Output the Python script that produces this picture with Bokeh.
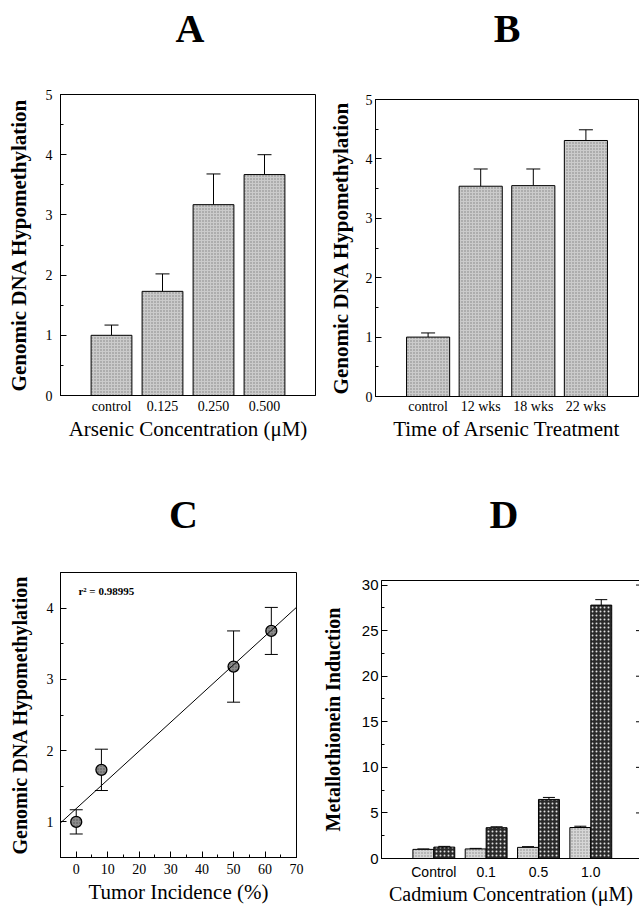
import numpy as np
from bokeh.plotting import figure
from bokeh.models import (Range1d, FixedTicker, SingleIntervalTicker, Whisker, TeeHead,
                          Label, Slope, ColumnDataSource)
from bokeh.layouts import column, row
from bokeh.embed import file_html
from bokeh.resources import INLINE

# ---------------- data ----------------
# Panel A
a_cats = ["control", "0.125", "0.250", "0.500"]
a_vals = [1.00, 1.73, 3.17, 3.67]
a_errs = [0.17, 0.29, 0.51, 0.33]

# Panel B
b_cats = ["control", "12 wks", "18 wks", "22 wks"]
b_vals = [1.00, 3.54, 3.55, 4.31]
b_errs = [0.07, 0.29, 0.28, 0.18]

# Panel C
c_x = [0, 8, 50, 62]
c_y = [1.00, 1.73, 3.18, 3.68]
c_err = [0.17, 0.29, 0.50, 0.33]
c_r2 = "r\u00b2 = 0.98995"

# Panel D
d_cats = ["Control", "0.1", "0.5", "1.0"]
d_light = [1.00, 1.05, 1.22, 3.40]
d_light_err = [0.05, 0.06, 0.08, 0.14]
d_dark = [1.25, 3.38, 6.48, 27.8]
d_dark_err = [0.08, 0.10, 0.22, 0.60]
d_yticks = [5, 10, 15, 20, 25, 30]

SERIF = "Liberation Serif"
SANS = "Liberation Sans"


def base_style(p):
    p.xgrid.visible = False
    p.ygrid.visible = False
    p.outline_line_color = "black"
    p.outline_line_width = 1
    p.background_fill_color = "white"
    p.border_fill_color = "white"
    for ax in (p.xaxis[0], p.yaxis[0]):
        ax.axis_line_color = "black"
        ax.major_tick_line_color = "black"
        ax.minor_tick_line_color = "black"
        ax.major_tick_out = 0
        ax.minor_tick_out = 0
        ax.major_tick_in = 6
        ax.minor_tick_in = 3
        ax.major_label_text_color = "black"
        ax.axis_label_text_color = "black"


def letter_fig(letter, x_range, left, fw, right, h, mid_from_bottom, dx=0):
    f = figure(frame_width=fw, frame_height=h, output_backend="svg", toolbar_location=None,
               x_range=Range1d(x_range.start, x_range.end), y_range=Range1d(0, h),
               min_border_left=left, min_border_right=right, min_border_top=0,
               min_border_bottom=0, x_axis_location=None, y_axis_location=None)
    f.xgrid.visible = False
    f.ygrid.visible = False
    f.outline_line_color = None
    f.background_fill_color = "white"
    f.border_fill_color = "white"
    f.text(x=[(x_range.start + x_range.end) / 2], y=[mid_from_bottom], text=[letter],
           x_offset=dx, text_font=SERIF, text_font_style="bold", text_font_size="40px",
           text_align="center", text_baseline="middle", text_color="black")
    return f


def bar_panel(cats, vals, errs, xtitle, fw, fh, borders, bar_w, st):
    pos = list(range(len(cats)))
    p = figure(frame_width=fw, frame_height=fh, output_backend="svg", toolbar_location=None,
               x_range=Range1d(-1, len(cats)), y_range=Range1d(0, 5),
               min_border_left=borders[0], min_border_right=borders[1],
               min_border_top=borders[2], min_border_bottom=borders[3])
    base_style(p)
    src = ColumnDataSource(dict(x=pos, top=vals, up=[v + e for v, e in zip(vals, errs)]))
    p.vbar(x="x", top="top", bottom=0, width=bar_w, source=src,
           fill_color="#cbcbcb", line_color="black", line_width=1,
           hatch_pattern="dot", hatch_color="#7f7f7f", hatch_scale=3, hatch_weight=1)
    p.add_layout(Whisker(base="x", lower="top", upper="up", source=src, dimension="height",
                         line_color="black", line_width=1,
                         upper_head=TeeHead(size=14, line_color="black", line_width=1),
                         lower_head=None))
    xa, ya = p.xaxis[0], p.yaxis[0]
    xa.ticker = FixedTicker(ticks=pos)
    xa.major_label_overrides = {i: c for i, c in zip(pos, cats)}
    xa.major_tick_in = 0
    xa.minor_tick_in = 0
    xa.major_label_standoff = st[0]
    xa.major_label_text_font = SERIF
    xa.major_label_text_font_size = "14px"
    xa.axis_label = xtitle
    xa.axis_label_text_font = SERIF
    xa.axis_label_text_font_style = "normal"
    xa.axis_label_text_font_size = "21px"
    xa.axis_label_standoff = st[1]
    ya.ticker = SingleIntervalTicker(interval=1, num_minor_ticks=2)
    ya.major_label_standoff = st[2]
    ya.major_label_text_font = SERIF
    ya.major_label_text_font_size = "14px"
    ya.axis_label = "Genomic DNA Hypomethylation"
    ya.axis_label_text_font = SERIF
    ya.axis_label_text_font_style = "bold"
    ya.axis_label_text_font_size = "21px"
    ya.axis_label_standoff = st[3]
    return p


# ---- top row: A (x 0-325), B (x 325-639) ----
pA = bar_panel(a_cats, a_vals, a_errs, "Arsenic Concentration (\u03bcM)", 255, 301,
               (60, 10, 34, 75), 0.8, (3, 0, 8, 12))
pB = bar_panel(b_cats, b_vals, b_errs, "Time of Arsenic Treatment", 263, 297,
               (48, 3, 39, 74), 0.82, (2, 0, 3, 10))
lA = letter_fig("A", pA.x_range, 60, 255, 10, 60, 32.5, dx=2)
lB = letter_fig("B", pB.x_range, 48, 263, 3, 60, 32.5, dx=0)

# ---------------- Panel C ----------------
pC = figure(frame_width=236, frame_height=285, output_backend="svg", toolbar_location=None,
            x_range=Range1d(-5, 70), y_range=Range1d(0.5, 4.5),
            min_border_left=60, min_border_right=22, min_border_top=27, min_border_bottom=51)
base_style(pC)
slope, intercept = np.polyfit(c_x, c_y, 1)
pC.add_layout(Slope(gradient=float(slope), y_intercept=float(intercept),
                    line_color="black", line_width=1))
csrc = ColumnDataSource(dict(x=c_x, y=c_y,
                             lo=[y - e for y, e in zip(c_y, c_err)],
                             hi=[y + e for y, e in zip(c_y, c_err)]))
pC.add_layout(Whisker(base="x", lower="lo", upper="hi", source=csrc, dimension="height",
                      line_color="black", line_width=1,
                      upper_head=TeeHead(size=13, line_color="black", line_width=1),
                      lower_head=TeeHead(size=13, line_color="black", line_width=1)))
pC.scatter("x", "y", source=csrc, size=11, fill_color="#8c8c8c", line_color="black",
           line_width=1.3, hatch_pattern="dot", hatch_color="#505050", hatch_scale=3)
pC.add_layout(Label(x=0.7, y=4.16, text=c_r2, text_font=SERIF, text_font_style="bold",
                    text_font_size="11px", text_color="black"))
cx, cy = pC.xaxis[0], pC.yaxis[0]
cx.ticker = SingleIntervalTicker(interval=10, num_minor_ticks=2)
cx.major_label_standoff = 6
cx.major_label_text_font = SERIF
cx.major_label_text_font_size = "14px"
cx.axis_label = "Tumor Incidence (%)"
cx.axis_label_text_font = SERIF
cx.axis_label_text_font_style = "normal"
cx.axis_label_text_font_size = "21px"
cx.axis_label_standoff = 3
cy.ticker = SingleIntervalTicker(interval=1, num_minor_ticks=2)
cy.major_label_standoff = 7
cy.major_label_text_font = SERIF
cy.major_label_text_font_size = "14px"
cy.axis_label = "Genomic DNA Hypomethylation"
cy.axis_label_text_font = SERIF
cy.axis_label_text_font_style = "bold"
cy.axis_label_text_font_size = "20px"
cy.axis_label_standoff = 13

# ---------------- Panel D ----------------
pD = figure(frame_width=259, frame_height=278, output_backend="svg", toolbar_location=None,
            x_range=Range1d(-1, len(d_cats) - 0.05), y_range=Range1d(0, 30.5),
            min_border_left=60, min_border_right=2, min_border_top=35, min_border_bottom=50)
base_style(pD)
dpos = np.arange(len(d_cats))
bw = 0.4
lsrc = ColumnDataSource(dict(x=dpos - bw / 2, top=d_light,
                             up=[v + e for v, e in zip(d_light, d_light_err)]))
dsrc = ColumnDataSource(dict(x=dpos + bw / 2, top=d_dark,
                             up=[v + e for v, e in zip(d_dark, d_dark_err)]))
pD.vbar(x="x", top="top", bottom=0, width=bw, source=lsrc,
        fill_color="#d6d6d6", line_color="black", line_width=1,
        hatch_pattern="dot", hatch_color="#8a8a8a", hatch_scale=3, hatch_weight=1)
pD.vbar(x="x", top="top", bottom=0, width=bw, source=dsrc,
        fill_color="#2a2a2a", line_color="black", line_width=1,
        hatch_pattern="dot", hatch_color="#e0e0e0", hatch_scale=4, hatch_weight=1)
for s in (lsrc, dsrc):
    pD.add_layout(Whisker(base="x", lower="top", upper="up", source=s, dimension="height",
                          line_color="black", line_width=1,
                          upper_head=TeeHead(size=12, line_color="black", line_width=1),
                          lower_head=None))
# tick marks along the right edge of panel D
pD.scatter(x=[pD.x_range.end] * len(d_yticks), y=d_yticks, marker="dash", size=9,
           line_color="black", line_width=1)
dx_, dy_ = pD.xaxis[0], pD.yaxis[0]
dx_.ticker = FixedTicker(ticks=list(dpos))
dx_.major_label_overrides = {int(i): c for i, c in zip(dpos, d_cats)}
dx_.major_tick_in = 0
dx_.minor_tick_in = 0
dx_.major_label_standoff = 5
dx_.major_label_text_font = SANS
dx_.major_label_text_font_size = "14px"
dx_.axis_label = "Cadmium Concentration (\u03bcM)"
dx_.axis_label_text_font = SERIF
dx_.axis_label_text_font_style = "normal"
dx_.axis_label_text_font_size = "20px"
dx_.axis_label_standoff = 0
dy_.ticker = SingleIntervalTicker(interval=5, num_minor_ticks=2)
dy_.major_label_standoff = 3
dy_.major_label_text_font = SANS
dy_.major_label_text_font_size = "15px"
dy_.axis_label = "Metallothionein Induction"
dy_.axis_label_text_font = SERIF
dy_.axis_label_text_font_style = "bold"
dy_.axis_label_text_font_size = "20px"
dy_.axis_label_standoff = 15

lC = letter_fig("C", pC.x_range, 60, 236, 22, 75, 31, dx=5)
lD = letter_fig("D", pD.x_range, 60, 259, 2, 75, 31, dx=-7)

layout = column(row(column(lA, pA), column(lB, pB)),
                row(column(lC, pC), column(lD, pD)))
open("out.html", "w").write(file_html(layout, INLINE))
